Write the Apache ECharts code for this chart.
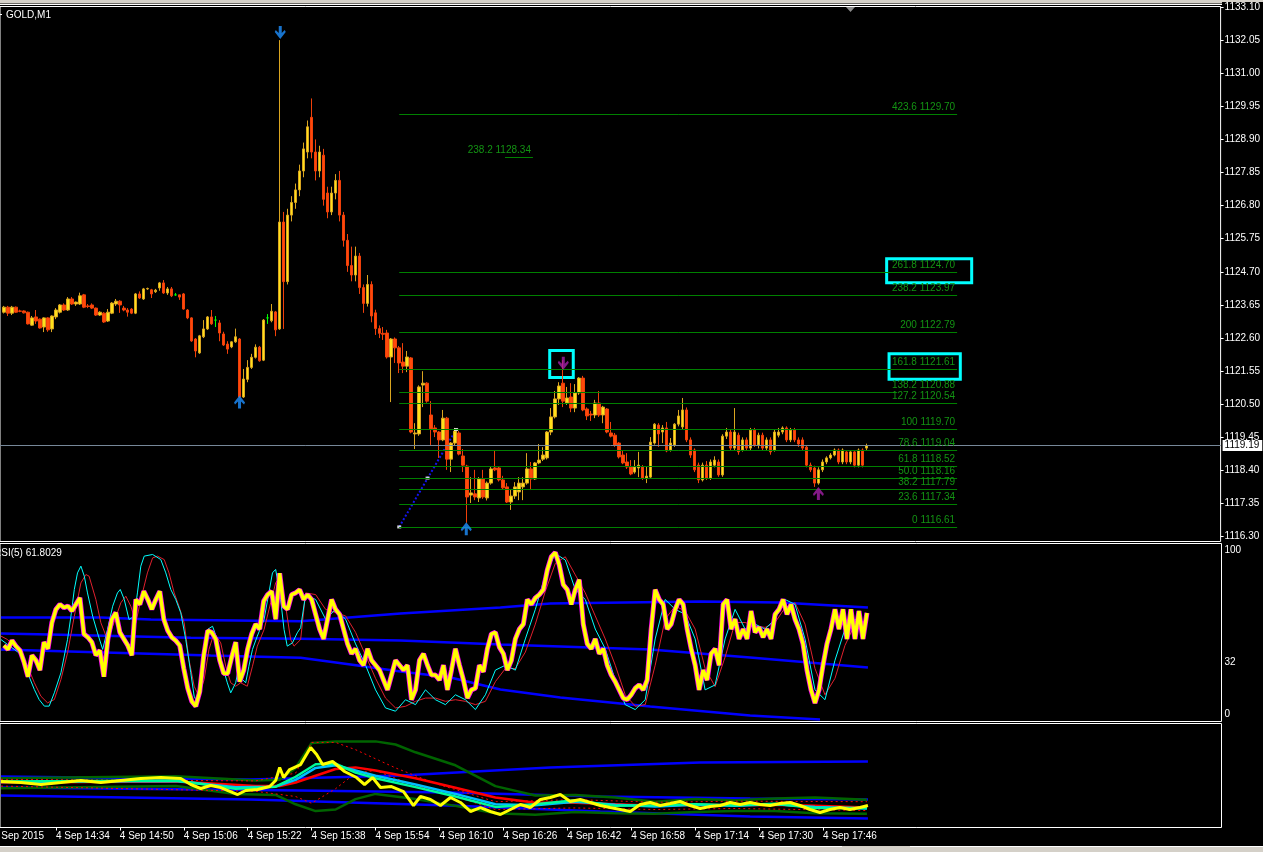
<!DOCTYPE html>
<html><head><meta charset="utf-8">
<script src="https://cdn.jsdelivr.net/npm/echarts@6/dist/echarts.min.js"></script>
<style>html,body{margin:0;padding:0;background:#000;overflow:hidden}#c{width:1263px;height:852px}</style>
</head><body><div id="c"></div>
<script>
// ---------------- DATA ----------------
const symbolName = 'GOLD,M1';
const rsiTitle = 'RSI(5) 61.8029';
const firstDateLabel = '4 Sep 2015';
const currentPrice = 1119.19;
// bar index = minutes relative to 4 Sep 14:34; first candle is 14:21
const firstBar = -13;
// [open, close, low, high]
const ohlc = [
[1123.42,1123.58,1123.38,1123.62],[1123.58,1123.39,1123.30,1123.62],[1123.39,1123.58,1123.33,1123.62],[1123.58,1123.42,1123.40,1123.60],
[1123.46,1123.45,1123.42,1123.50],[1123.46,1123.40,1123.38,1123.48],[1123.42,1123.05,1123.03,1123.44],[1123.01,1123.24,1122.99,1123.30],
[1123.27,1123.14,1123.05,1123.49],[1123.20,1122.92,1122.90,1123.22],[1122.95,1123.24,1122.79,1123.26],[1123.24,1122.86,1122.80,1123.26],
[1122.89,1123.30,1122.79,1123.32],[1123.27,1123.49,1123.20,1123.55],[1123.42,1123.65,1123.38,1123.68],[1123.65,1123.49,1123.46,1123.70],
[1123.49,1123.84,1123.46,1123.90],[1123.84,1123.68,1123.65,1123.90],[1123.68,1123.74,1123.62,1123.76],[1123.68,1123.94,1123.65,1124.04],
[1123.97,1123.58,1123.55,1124.00],[1123.62,1123.60,1123.55,1123.68],[1123.65,1123.55,1123.52,1123.70],[1123.55,1123.33,1123.30,1123.57],
[1123.33,1123.42,1123.30,1123.45],[1123.39,1123.11,1123.08,1123.42],[1123.14,1123.42,1123.11,1123.52],[1123.39,1123.71,1123.36,1123.74],
[1123.68,1123.77,1123.62,1123.84],[1123.77,1123.65,1123.40,1123.80],[1123.55,1123.49,1123.45,1123.62],[1123.49,1123.42,1123.28,1123.55],
[1123.52,1123.39,1123.36,1123.55],[1123.39,1124.00,1123.36,1124.03],[1124.00,1123.87,1123.84,1124.08],[1123.84,1124.16,1123.81,1124.19],
[1124.16,1124.17,1124.13,1124.20],[1124.13,1124.00,1123.87,1124.16],[1124.07,1124.12,1124.03,1124.16],[1124.19,1124.35,1124.10,1124.38],
[1124.35,1124.03,1124.00,1124.44],[1124.03,1124.16,1123.97,1124.22],[1124.16,1123.94,1123.90,1124.22],[1123.97,1123.97,1123.94,1124.03],
[1123.97,1123.90,1123.81,1123.97],[1124.00,1123.52,1123.50,1124.03],[1123.49,1123.24,1123.20,1123.52],[1123.24,1122.51,1122.48,1123.26],
[1122.57,1122.19,1121.99,1122.60],[1122.13,1122.67,1122.10,1122.70],[1122.64,1122.89,1122.60,1123.17],[1122.89,1123.27,1122.86,1123.30],
[1123.27,1123.05,1123.02,1123.49],[1123.17,1123.17,1122.95,1123.30],[1123.08,1122.76,1122.50,1123.17],[1122.73,1122.38,1122.35,1122.80],
[1122.41,1122.25,1122.10,1122.50],[1122.32,1122.48,1122.28,1122.50],[1122.48,1122.64,1122.45,1122.90],[1122.57,1120.73,1120.70,1122.60],
[1120.73,1121.30,1120.70,1121.62],[1121.29,1121.67,1121.20,1121.90],[1121.67,1121.99,1121.62,1122.10],[1121.99,1122.31,1121.95,1122.40],
[1122.31,1121.88,1121.85,1122.35],[1121.90,1123.17,1121.87,1123.20],[1123.24,1123.24,1123.05,1123.36],[1123.15,1123.45,1123.10,1123.68],
[1123.43,1122.86,1122.66,1123.46],[1122.89,1126.28,1122.86,1132.05],
[1126.28,1124.39,1122.89,1126.60],[1124.39,1126.50,1124.30,1126.70],[1126.50,1126.90,1126.30,1127.10],[1126.90,1127.30,1126.70,1127.50],
[1127.30,1127.90,1127.10,1128.10],[1127.90,1128.60,1127.70,1128.80],[1128.50,1129.30,1128.30,1129.50],[1129.60,1128.50,1128.30,1130.20],
[1128.50,1127.90,1127.60,1128.90],[1127.90,1128.50,1127.70,1128.70],[1128.40,1127.00,1126.80,1128.60],[1127.20,1126.60,1126.40,1127.40],
[1126.60,1127.20,1126.50,1127.40],[1127.20,1127.60,1127.00,1127.80],[1127.60,1126.50,1126.30,1127.90],[1126.50,1125.70,1125.50,1126.60],
[1125.70,1124.90,1124.70,1125.90],[1124.90,1124.60,1124.40,1125.50],[1124.60,1125.20,1124.40,1125.50],[1125.20,1124.20,1124.00,1125.30],
[1124.20,1123.70,1123.40,1124.30],[1123.70,1124.30,1123.60,1124.60],[1124.30,1123.30,1123.10,1124.40],[1123.40,1122.90,1122.70,1123.50],
[1122.90,1122.75,1122.60,1123.00],[1122.75,1122.72,1122.54,1122.95],[1122.76,1122.00,1121.95,1122.86],[1122.00,1122.57,1120.57,1122.60],
[1122.57,1122.29,1121.81,1122.62],[1122.29,1121.81,1121.49,1122.35],[1121.84,1121.71,1121.49,1122.44],[1121.71,1122.00,1121.52,1122.19],
[1121.97,1119.62,1119.58,1122.00],[1119.56,1119.59,1119.08,1119.90],[1119.56,1121.05,1119.50,1121.10],[1121.11,1121.17,1120.41,1121.55],
[1121.17,1120.60,1120.55,1121.20],[1120.16,1119.72,1119.21,1120.60],[1119.75,1119.62,1119.46,1119.84],[1119.62,1119.37,1118.80,1119.65],
[1119.37,1120.06,1119.33,1120.32],[1120.06,1118.76,1118.42,1120.10],[1118.76,1119.27,1118.35,1119.30],[1119.27,1119.65,1119.20,1119.75],
[1119.59,1118.92,1118.88,1119.65],[1118.86,1118.57,1118.35,1119.08],[1118.54,1117.56,1116.74,1118.58],[1117.62,1117.69,1117.37,1118.19],
[1117.66,1117.56,1117.46,1118.42],[1117.53,1118.13,1117.40,1118.19],[1118.13,1117.56,1117.50,1118.42],[1117.53,1118.00,1117.45,1118.05],
[1118.00,1118.45,1117.95,1118.51],[1118.48,1118.42,1118.38,1119.05],[1118.48,1118.10,1118.05,1118.54],[1118.10,1117.85,1117.80,1118.23],
[1117.88,1117.40,1117.37,1118.00],[1117.40,1117.59,1117.15,1117.78],[1117.59,1117.88,1117.50,1118.03],[1117.72,1118.00,1117.46,1118.19],
[1117.88,1118.00,1117.46,1118.19],[1118.00,1118.45,1117.95,1118.95],[1118.45,1118.13,1117.78,1118.67],[1118.13,1118.64,1118.10,1118.67],
[1118.64,1118.73,1118.60,1119.24],[1118.76,1118.89,1118.70,1119.14],[1118.80,1119.62,1118.75,1119.65],[1119.62,1120.10,1119.52,1120.38],
[1120.10,1120.67,1120.05,1120.92],[1120.67,1121.08,1120.48,1121.20],[1121.17,1120.60,1120.41,1121.90],[1120.54,1120.70,1120.48,1121.05],
[1120.73,1120.38,1120.25,1121.17],[1120.38,1120.86,1120.25,1121.14],[1120.86,1121.33,1120.80,1121.36],[1121.33,1120.32,1120.28,1121.40],
[1120.35,1120.13,1120.00,1120.40],[1120.19,1120.16,1119.97,1120.29],[1120.16,1120.54,1120.06,1120.64],[1120.54,1120.16,1120.10,1120.92],
[1120.16,1120.41,1119.90,1120.45],[1120.35,1119.62,1119.58,1120.38],[1119.59,1119.49,1119.45,1119.94],[1119.52,1119.21,1119.15,1119.59],
[1119.27,1118.83,1118.78,1119.30],[1118.89,1118.64,1118.60,1119.05],[1118.67,1118.51,1118.45,1118.95],[1118.51,1118.29,1118.25,1118.73],
[1118.35,1118.51,1118.30,1118.73],[1118.48,1118.57,1118.19,1118.99],[1118.51,1118.16,1118.10,1118.57],[1118.16,1118.22,1118.00,1118.54],
[1118.19,1119.30,1118.15,1119.46],[1119.27,1119.87,1119.22,1119.90],[1119.84,1119.56,1119.15,1119.90],[1119.62,1119.75,1119.27,1119.84],
[1119.75,1119.02,1118.98,1119.94],[1119.05,1119.27,1119.00,1119.43],[1119.21,1119.87,1119.15,1119.90],[1119.87,1120.13,1119.80,1120.32],
[1119.78,1120.32,1119.70,1120.70],[1120.32,1119.37,1119.30,1120.40],[1119.37,1118.89,1118.80,1119.45],[1119.05,1118.42,1118.35,1119.10],
[1118.57,1118.10,1118.00,1118.65],[1118.10,1118.57,1118.05,1118.65],[1118.57,1118.16,1118.10,1118.70],[1118.16,1118.67,1118.10,1118.75],
[1118.57,1118.73,1118.50,1118.85],[1118.67,1118.26,1118.20,1118.75],[1118.26,1119.49,1118.20,1119.55],[1119.49,1119.62,1119.40,1119.75],
[1119.62,1119.11,1119.05,1119.70],[1119.11,1119.62,1119.05,1120.38],[1119.52,1118.99,1118.90,1119.60],[1119.05,1119.37,1119.00,1119.45],
[1119.37,1119.11,1119.05,1119.45],[1119.11,1119.68,1119.05,1119.75],[1119.68,1119.21,1119.15,1119.75],[1119.21,1119.52,1119.10,1119.60],
[1119.52,1119.11,1119.05,1119.60],[1119.11,1119.37,1119.05,1119.45],[1119.37,1118.99,1118.90,1119.45],[1119.05,1119.62,1119.00,1119.70],
[1119.52,1119.62,1119.45,1119.75],[1119.62,1119.75,1119.55,1119.80],[1119.75,1119.37,1119.30,1119.80],[1119.37,1119.68,1119.30,1119.75],
[1119.68,1119.37,1119.30,1119.75],[1119.37,1119.24,1119.15,1119.45],[1119.37,1119.11,1119.05,1119.45],[1119.14,1118.57,1118.50,1119.20],
[1118.57,1118.42,1118.35,1118.65],[1118.48,1118.00,1117.88,1118.55],[1118.00,1118.42,1117.95,1118.50],[1118.42,1118.67,1118.35,1118.75],
[1118.67,1118.80,1118.60,1118.85],[1118.80,1118.89,1118.75,1118.95],[1118.89,1119.05,1118.85,1119.10],[1119.05,1118.67,1118.60,1119.10],
[1118.67,1119.05,1118.60,1119.10],[1118.99,1118.67,1118.60,1119.05],[1118.67,1118.99,1118.60,1119.05],[1118.99,1118.57,1118.50,1119.05],
[1118.57,1119.05,1118.50,1119.10],[1119.05,1118.57,1118.50,1119.10],[1119.11,1119.19,1119.05,1119.25]
];
// RSI(5), one value per candle
const rsi = [
42,39.6,45,41.6,39,32,23,36,33,27, 44,40,56,64,67,65,66,63,67,71,
49,47,44,36,39,23,46,58,62,50, 46,42,36,70,67,75,70,64,70,75,
58,51,47,45,42,28,16,8,5,14, 36,51,50,46,33,25,25,35,44,20,
27,40,49,55,52,69,73,75,58,86, 66,64,73,74,76,70,73,70,61,52,
46,58,70,64,61,52,43,37,40,33, 30,40,33,30,27,21,15,24,33,30,
27,30,9,15,33,37,30,24,24,21, 30,15,27,40,30,21,10,15,16,30,
26,40,49,50,41,37,27,33,46,52, 55,70,67,71,73,76,88,96,98.6,91,
79,76,67,76,82,55,43,40,46,37, 40,30,24,20,15,10,9,12,16,18,
15,21,52,76,70,67,52,55,64,70, 67,52,40,30,15,27,21,37,40,30,
67,70,52,58,46,52,46,63,50,53, 47,52,46,61,64,70,61,67,58,52,
43,27,15,7,15,30,43,52,64,52, 64,46,64,46,63,46,61.8
];
// signal lines in the RSI window: [bar, value]
const rsiCyan = [[-13.75,45.6],[-12.1,42.6],[-10.4,39.6],[-8.75,36.5],[-7.1,25.4],[-5.4,15.2],[-4.2,9.1],[-2.9,5.1],[-1.7,5.1],[-0.4,13.2],
[1.25,25.4],[2.9,45.6],[3.75,59.8],[4.6,76.1],[5.4,86.2],[6.25,90.3],[7.1,84.2],[7.9,74],[9.2,59.8],[10.4,49.7],[11.7,39.6],[12.9,51.7],
[14.2,65.9],[15.4,74],[16.1,76.1],[17.1,70],[18.3,57.8],[19.6,59.8],[20.4,74],[21.25,90.3],[22.1,96.4],[24.2,97.4],[26.25,94.3],[27.5,86.2],
[28.75,76.1],[30,70],[31.25,61.9],[32.5,45.6],[33.75,25.4],[34.6,11.1],[35.4,7.1],[36.25,19.3],[37.1,35.5],[37.9,51.7],[39.2,53.7],[40.4,45.6],
[41.7,29.4],[42.9,19.3],[43.75,13.2],[45,19.3],[45.8,29.4],[46.7,21.3],[47.5,19.3],[48.3,29.4],[49.2,39.6],[50.4,47.7],[52.1,57.8],[53.3,74],
[54.2,86.2],[55,88.3],[56.25,70],[57.1,51.7],[57.9,41.6],[59.2,43.6],[60.4,49.7],[61.25,52.8],
[62.5,73],[65,70],[67.5,58],[70,64],[72.5,58],[75,43],[77.5,30],[80,15],[82.5,4],[85,2],[87.5,9],[90,6],[92.5,15],[95,9],[97.5,6],[100,12],
[102.5,9],[105,3],[107.5,12],[110,27],[112.5,30],[115,27],[117.5,46],[120,64],[122.5,85],[125,98],[127.5,94],[130,76],[132.5,70],[135,52],
[137.5,40],[140,21],[142.5,6],[145,3],[147.5,9],[150,46],[152.5,70],[155,64],[157.5,61],[160,46],[162.5,15],[165,18],[167.5,46],[170,64],
[172.5,52],[175,55],[177.5,52],[180,58],[182.5,70],[185,67],[187.5,46],[190,15],[192.5,9],[195,33],[197.5,52],[200,58],[203,55]];
const rsiRed = [[-13.75,47.7],[-12.1,45.6],[-9.6,39.6],[-7.1,29.4],[-5.4,19.3],[-3.75,11.1],[-2.1,7.1],[-0.4,9.1],[1.25,21.3],[2.9,37.5],
[4.6,59.8],[6.25,80.1],[7.5,85.2],[8.3,84.2],[10,70],[11.25,55.8],[12.9,45.6],[14.2,53.7],[16.25,68],[17.5,72],[18.75,65.9],[20,55.8],
[21.25,70],[22.9,86.2],[24.2,95.3],[25.4,96.4],[27.1,94.3],[28.3,86.2],[29.6,74],[30.8,65.9],[32.1,55.8],[33.3,33.5],[34.6,17.2],[35.8,11.1],
[37.1,21.3],[38.3,39.6],[39.6,49.7],[41.25,43.6],[42.5,29.4],[43.75,19.3],[45,17.2],[46.25,19.3],[47.9,17.2],[49.2,29.4],[50.4,41.6],
[52.1,51.7],[53.75,68],[55,80.1],[56.25,84.2],[57.5,65.9],[58.75,45.6],[59.6,41.6],[61.25,45.6],
[62.5,74],[65,73],[67.5,64],[70,62],[72.5,60],[75,50],[77.5,36],[80,22],[82.5,10],[85,4],[87.5,5],[90,8],[92.5,10],[95,10],[97.5,8],
[100,9],[102.5,8],[105,6],[107.5,8],[110,20],[112.5,28],[115,28],[117.5,38],[120,55],[122.5,75],[125,92],[127.5,96],[130,85],[132.5,74],
[135,60],[137.5,46],[140,30],[142.5,12],[145,5],[147.5,6],[150,30],[152.5,58],[155,66],[157.5,63],[160,52],[162.5,28],[165,17],[167.5,35],
[170,56],[172.5,56],[175,54],[177.5,53],[180,56],[182.5,65],[185,68],[187.5,55],[190,28],[192.5,12],[195,22],[197.5,42],[200,55],[203,57]];
const rsiBlueUpper = [[-13.75,59.0],[11.25,59.0],[23.75,57.8],[61.25,56.8],[86.25,61.5],[111.25,65.1],[123.75,67.6],[161.25,68.8],[181.25,68.2],[203.25,65.1]];
const rsiBlueMiddle = [[-13.75,49.3],[1.25,48.5],[33.75,46.7],[61.25,46.1],[86.25,45.0],[111.25,42.6],[148.75,39.6],[173.75,34.7],[203.25,28.6]];
const rsiBlueLower = [[-13.75,39.6],[1.25,38.5],[38.75,35.9],[61.25,34.5],[73.75,30.4],[86.25,26.2],[98.75,22.5],[111.25,15.2],[126.25,10.3],[148.75,4.9],[173.75,-0.6],[191.25,-3.0]];
// lower window (price based averages and bands): [bar, value]
const lowYellow = [[-13.75,1122.88],[-8.75,1122.69],[-3.75,1122.31],[1.25,1122.69],[6.25,1123.08],[11.25,1122.69],[16.25,1123.08],[21.25,1123.46],
[26.25,1123.65],[31.25,1123.46],[33.75,1122.31],[36.25,1121.54],[38.75,1122.12],[41.25,1121.73],[45.5,1120.38],[47.5,1121.15],[50.5,1121.35],
[53.5,1121.92],[55,1123.08],[56,1125.58],[57,1123.65],[58.5,1125.19],[61.25,1126.15],[63.75,1129.42],[65.25,1128.08],[66.75,1126.15],
[69.25,1126.73],[72.25,1124.81],[75.25,1123.65],[77.25,1122.31],[79.25,1123.65],[81.25,1121.73],[84,1121.92],[87,1120.96],[89.5,1118.27],
[91.25,1120.0],[93.75,1119.42],[96.25,1118.27],[98.75,1119.81],[101.25,1118.85],[103.75,1117.12],[106.25,1117.88],[108.75,1117.12],
[111.25,1116.54],[113.75,1117.5],[116.25,1118.46],[118.75,1117.88],[121.25,1119.42],[123.75,1119.81],[126.25,1120.38],[128.75,1119.04],
[131.25,1119.42],[133.75,1118.85],[136.25,1118.27],[138.75,1117.88],[141.25,1117.5],[143.75,1117.12],[146.25,1118.46],[148.75,1118.85],
[151.25,1118.27],[153.75,1118.65],[156.25,1119.04],[158.75,1118.27],[161.25,1117.69],[163.75,1118.08],[166.25,1118.27],[168.75,1118.85],
[171.25,1118.46],[173.75,1118.85],[176.25,1118.46],[178.75,1118.27],[181.25,1118.65],[183.75,1118.85],[186.25,1118.27],[188.75,1117.5],
[191.25,1116.92],[193.75,1117.5],[196.25,1117.88],[198.75,1117.5],[201.25,1117.88],[203.25,1118.27]];
const lowRed = [[-13.75,1122.7],[30,1122.9],[50,1122.0],[56,1122.0],[60,1122.7],[65,1124.0],[70,1125.3],[75,1125.6],[80,1125.0],[90,1123.5],[100,1121.7],[110,1119.8],[120,1118.8],[130,1118.8],[140,1118.5],[150,1118.2],[160,1118.4],[170,1118.3],[180,1118.4],[190,1118.2],[203,1117.9]];
const lowSky = [[-13.75,1122.8],[30,1123.0],[45,1121.8],[55,1121.9],[60,1123.2],[65,1125.5],[70,1126.0],[75,1125.0],[80,1124.0],[90,1122.3],[100,1120.5],[110,1118.5],[120,1118.3],[130,1119.0],[140,1118.4],[150,1118.1],[160,1118.4],[170,1118.2],[180,1118.5],[190,1118.0],[203,1117.7]];
const lowAqua = [[-13.75,1122.9],[30,1123.1],[45,1121.5],[55,1121.9],[60,1123.8],[65,1126.2],[70,1126.3],[75,1124.6],[80,1123.5],[90,1121.8],[100,1120.0],[110,1118.0],[120,1118.5],[130,1119.3],[140,1118.2],[150,1118.3],[160,1118.5],[170,1118.3],[180,1118.6],[190,1117.8],[203,1117.8]];
const lowBandUpper = [[-13.75,1123.5],[30,1123.9],[50,1123.1],[56,1123.2],[60,1125.5],[64,1130.3],[70,1130.6],[80,1130.6],[85,1130.0],[90,1128.5],[100,1126.0],[110,1122.0],[120,1120.2],[130,1120.3],[140,1119.8],[150,1119.0],[160,1119.5],[170,1119.3],[180,1119.6],[190,1119.8],[203,1119.4]];
const lowBandLower = [[-13.75,1121.6],[30,1122.0],[45,1120.5],[55,1120.3],[60,1118.5],[65,1117.2],[70,1117.5],[75,1119.5],[80,1120.5],[90,1119.5],[100,1118.2],[110,1116.8],[120,1116.5],[130,1117.0],[140,1116.8],[150,1116.7],[160,1117.0],[170,1117.2],[180,1117.2],[190,1116.8],[203,1116.7]];
const lowDotUpper = [[-13.75,1123.3],[50,1123.0],[60,1124.5],[64,1130.4],[70,1130.4],[75,1129.0],[85,1125.5],[95,1122.5],[110,1119.0],[130,1119.4],[150,1118.9],[170,1119.1],[203,1119.0]];
const lowDotLower = [[-13.75,1122.0],[50,1121.0],[60,1120.0],[64,1118.7],[70,1121.5],[75,1124.5],[80,1125.0],[90,1122.0],[100,1120.0],[110,1117.5],[130,1117.8],[150,1117.5],[170,1117.7],[203,1117.3]];
const lowBlueTop = [[-13.75,1123.85],[48.75,1123.27],[86.25,1124.04],[123.75,1125.58],[161.25,1126.54],[203.25,1126.73]];
const lowBlueMid = [[-13.75,1121.73],[61.25,1121.15],[98.75,1120.77],[136.25,1120.0],[173.75,1119.62],[203.25,1119.42]];
const lowBlueBot = [[-13.75,1120.19],[48.75,1119.42],[98.75,1118.27],[136.25,1117.12],[173.75,1116.15],[203.25,1115.77]];
// axis ticks
const priceTicks = [1133.10,1132.05,1131.00,1129.95,1128.90,1127.85,1126.80,1125.75,1124.70,1123.65,1122.60,1121.55,1120.50,1119.45,1118.40,1117.35,1116.30];
const rsiTicks = [100,32,0];
const timeTickBars = [0,16,32,48,64,80,96,112,128,144,160,176,192];
const timeTickLabels = ['4 Sep 14:34','4 Sep 14:50','4 Sep 15:06','4 Sep 15:22','4 Sep 15:38','4 Sep 15:54','4 Sep 16:10','4 Sep 16:26','4 Sep 16:42','4 Sep 16:58','4 Sep 17:14','4 Sep 17:30','4 Sep 17:46'];
// Fibonacci objects
const fibLevels = ['0','23.6','38.2','50.0','61.8','78.6','100','127.2','138.2','161.8','200','238.2','261.8','423.6'];
const fibPrices = [1116.61,1117.34,1117.79,1118.16,1118.52,1119.04,1119.70,1120.54,1120.88,1121.61,1122.79,1123.97,1124.70,1129.70];
const fibFromBar = 86, fibToBar = 225.75, fibShortToBar = 210.75, fibShortIndex = 8;
const fib2 = {level:'238.2', price:1128.34, from:112.5, to:119.5};
const trendLine = [[86,1116.61],[93.1,1118.16],[100.25,1119.70]];
// signal arrows [bar, price]
const blueDown = [[56.2,1132.29]];
const blueUp = [[46,1120.57],[102.8,1116.55]];
const magentaDown = [[127.1,1121.80]];
const magentaUp = [[191,1117.67]];
// highlight boxes [[bar1, price1],[bar2, price2]]
const boxes = [[[123.7,1122.206],[129.6,1121.349]],[[208.1,1125.114],[229.4,1124.353]],[[208.7,1122.101],[226.55,1121.295]]];

// ---------------- CHART ----------------
const FONT = 'Liberation Sans';
const XMIN = -14, XMAX = 291.75;
const chart = echarts.init(document.getElementById('c'), null, {renderer:'canvas'});
const candleData = ohlc.map((d,i)=>{
  const v = [firstBar+i, d[0], d[1], d[2], d[3]];
  if (d[0] === d[1]) return {value:v, itemStyle:{color:'#00FF00',color0:'#00FF00',borderColor:'#00FF00',borderColor0:'#00FF00'}};
  return v;
});
const rsiData = rsi.map((v,i)=>[firstBar+i, v]);
const downPath = 'path://M4,0 L7,0 L7,7 L10,4 L11,6 L5.5,13 L0,6 L1,4 L4,7 Z';
const upPath = 'path://M4,13 L7,13 L7,6 L10,9 L11,7 L5.5,0 L0,7 L1,9 L4,6 Z';
function xAxis(i, show){
  return {gridIndex:i, type:'value', min:XMIN, max:XMAX, splitLine:{show:false}, axisLine:{show:false, onZero:false},
    axisTick:{show:show, customValues:timeTickBars, length:3, lineStyle:{color:'#fff'}},
    axisLabel:{show:show, customValues:timeTickBars, color:'#fff', fontSize:10, fontFamily:FONT, align:'left', margin:4,
      formatter:(v)=>{const k=timeTickBars.indexOf(Math.round(v)); return k>=0?timeTickLabels[k]:'';}}};
}
function lineS(name, data, x, color, width, extra){
  return Object.assign({name, type:'line', xAxisIndex:x, yAxisIndex:x, data, symbol:'none', silent:true,
    lineStyle:{color, width}, z:2}, extra||{});
}
const fibMarks = [];
fibPrices.forEach((p,i)=>{
  const name = fibLevels[i]+' '+p.toFixed(2);
  if (i === fibShortIndex) {
    fibMarks.push([{coord:[fibFromBar,p], name:'', label:{show:false}},{coord:[fibShortToBar,p]}]);
    fibMarks.push([{coord:[fibShortToBar,p], name, lineStyle:{color:'rgba(0,0,0,0)'}},{coord:[fibToBar,p]}]);
  } else {
    fibMarks.push([{coord:[fibFromBar,p], name},{coord:[fibToBar,p]}]);
  }
});
fibMarks.push([{coord:[fib2.from,fib2.price], name:fib2.level+' '+fib2.price.toFixed(2)},{coord:[fib2.to,fib2.price]}]);

const option = {
  backgroundColor:'#000',
  animation:false,
  grid:[
    {left:-1.5, top:6.5, width:1223, height:535, show:true, borderColor:'#fff', borderWidth:1, backgroundColor:'#000'},
    {left:-1.5, top:543.5, width:1223, height:178, show:true, borderColor:'#fff', borderWidth:1, backgroundColor:'#000'},
    {left:-1.5, top:723.5, width:1223, height:104, show:true, borderColor:'#fff', borderWidth:1, backgroundColor:'#000'}
  ],
  xAxis:[xAxis(0,false), xAxis(1,false), xAxis(2,true)],
  yAxis:[
    {gridIndex:0, type:'value', position:'right', min:1116.148, max:1133.116, splitLine:{show:false}, axisLine:{show:false, onZero:false},
     axisTick:{show:true, customValues:priceTicks, length:3, lineStyle:{color:'#fff'}},
     axisLabel:{customValues:priceTicks, color:'#fff', fontSize:10, fontFamily:FONT, margin:4, formatter:v=>v.toFixed(2)}},
    {gridIndex:1, type:'value', position:'right', min:-4.26, max:104.08, splitLine:{show:false}, axisLine:{show:false, onZero:false},
     axisTick:{show:false},
     axisLabel:{customValues:rsiTicks, color:'#fff', fontSize:10, fontFamily:FONT, margin:3, formatter:v=>String(Math.round(v))}},
    {gridIndex:2, type:'value', position:'right', min:1114.04, max:1134.04, show:false, axisLine:{onZero:false}}
  ],
  graphic:[
    {type:'rect', shape:{x:0,y:0,width:1263,height:2}, style:{fill:'#D4D0C8'}, silent:true},
    {type:'rect', shape:{x:0,y:2,width:1222,height:1.5}, style:{fill:'#D4D0C8'}, silent:true},
    {type:'rect', shape:{x:0,y:4,width:1222,height:1}, style:{fill:'#FFFFFF'}, silent:true},
    {type:'rect', shape:{x:0,y:846,width:1263,height:6}, style:{fill:'#D4D0C8'}, silent:true},
    {type:'rect', shape:{x:0,y:846,width:842,height:1}, style:{fill:'#FFFFFF'}, silent:true},
    {type:'rect', shape:{x:910,y:846,width:353,height:1}, style:{fill:'#FFFFFF'}, silent:true},
    {type:'polygon', shape:{points:[[846,7],[855,7],[850.5,12]]}, style:{fill:'#8C8C8C'}, silent:true},
    {type:'rect', shape:{x:0,y:14,width:2,height:1}, style:{fill:'#FFFFFF'}, silent:true},
    {type:'text', left:6, top:10, style:{text:symbolName, fill:'#fff', font:'10px '+FONT}, silent:true},
    {type:'text', left:-6, top:548, style:{text:rsiTitle, fill:'#fff', font:'10px '+FONT}, silent:true},
    {type:'text', left:-7, top:831, style:{text:firstDateLabel, fill:'#fff', font:'10px '+FONT}, silent:true}
  ],
  series:[
    {name:'objects', type:'line', xAxisIndex:0, yAxisIndex:0, data:trendLine.filter((d,i)=>i!==1), symbol:'none', silent:true, z:1,
     lineStyle:{color:'#1414F0', width:2, type:[2,2]},
     markLine:{silent:true, symbol:['none','none'], animation:false,
       lineStyle:{color:'#008000', width:1, type:'solid'},
       label:{show:true, position:'insideEndTop', formatter:'{b}', color:'#139313', fontSize:10, fontFamily:FONT, distance:2},
       data:fibMarks.concat([{yAxis:currentPrice, name:'cp', lineStyle:{color:'#778899', width:1, type:'solid'},
         label:{show:true, position:'end', formatter:currentPrice.toFixed(2), color:'#000', backgroundColor:'#fff', padding:[1,3,0,2], fontSize:10, fontFamily:FONT, distance:2}}])},
     markArea:{silent:true, itemStyle:{color:'rgba(0,0,0,0)', borderColor:'#00FFFF', borderWidth:3},
       data:boxes.map(b=>[{coord:b[0]},{coord:b[1]}])}
    },
    {name:'price', type:'candlestick', xAxisIndex:0, yAxisIndex:0, data:candleData, barWidth:3, z:3, silent:true,
     encode:{x:0, y:[1,2,3,4]},
     itemStyle:{color:'#FFE21A', color0:'#FF4A0A', borderColor:'#DAA520', borderColor0:'#F0400A', borderWidth:1}},
    {name:'trendPoints', type:'scatter', xAxisIndex:0, yAxisIndex:0, data:trendLine, symbol:'rect', symbolSize:[4,3], z:4, silent:true,
     itemStyle:{color:'#fff'}},
    {name:'blueDown', type:'scatter', xAxisIndex:0, yAxisIndex:0, data:blueDown, symbol:downPath, symbolSize:[11,13], z:5, silent:true, itemStyle:{color:'#1E90FF'}},
    {name:'blueUp', type:'scatter', xAxisIndex:0, yAxisIndex:0, data:blueUp, symbol:upPath, symbolSize:[11,13], z:5, silent:true, itemStyle:{color:'#1E90FF'}},
    {name:'magDown', type:'scatter', xAxisIndex:0, yAxisIndex:0, data:magentaDown, symbol:downPath, symbolSize:[11,13], z:5, silent:true, itemStyle:{color:'#A41FA8'}},
    {name:'magUp', type:'scatter', xAxisIndex:0, yAxisIndex:0, data:magentaUp, symbol:upPath, symbolSize:[11,13], z:5, silent:true, itemStyle:{color:'#A41FA8'}},
    // RSI window
    lineS('rsiBlue1', rsiBlueUpper, 1, '#0000FF', 2.5),
    lineS('rsiBlue2', rsiBlueMiddle, 1, '#0000FF', 2.5),
    lineS('rsiBlue3', rsiBlueLower, 1, '#0000FF', 2.5),
    lineS('rsiRed', rsiRed, 1, '#E0202E', 1),
    lineS('rsiCyan', rsiCyan, 1, '#00FFFF', 1),
    lineS('rsiMagenta', rsiData, 1, '#FF00FF', 5, {z:3}),
    lineS('rsiYellow', rsiData, 1, '#FFFF00', 3.5, {z:4}),
    // lower window
    lineS('blueTop', lowBlueTop, 2, '#0000FF', 2.5),
    lineS('blueMid', lowBlueMid, 2, '#0000FF', 2.5),
    lineS('blueBot', lowBlueBot, 2, '#0000FF', 2.5),
    lineS('bandUp', lowBandUpper, 2, '#006400', 2.5),
    lineS('bandLo', lowBandLower, 2, '#006400', 2.5),
    lineS('dotUp', lowDotUpper, 2, '#FF0000', 1, {lineStyle:{color:'#FF0000', width:1, type:[2,3]}}),
    lineS('dotLo', lowDotLower, 2, '#FF0000', 1, {lineStyle:{color:'#FF0000', width:1, type:[2,3]}}),
    lineS('red', lowRed, 2, '#FF0000', 2.5, {z:3}),
    lineS('sky', lowSky, 2, '#00BFFF', 2.5, {z:3}),
    lineS('aqua', lowAqua, 2, '#00FA9A', 2.5, {z:3}),
    lineS('yellow', lowYellow, 2, '#FFFF00', 3, {z:4})
  ]
};
chart.setOption(option);
</script>
</body></html>
